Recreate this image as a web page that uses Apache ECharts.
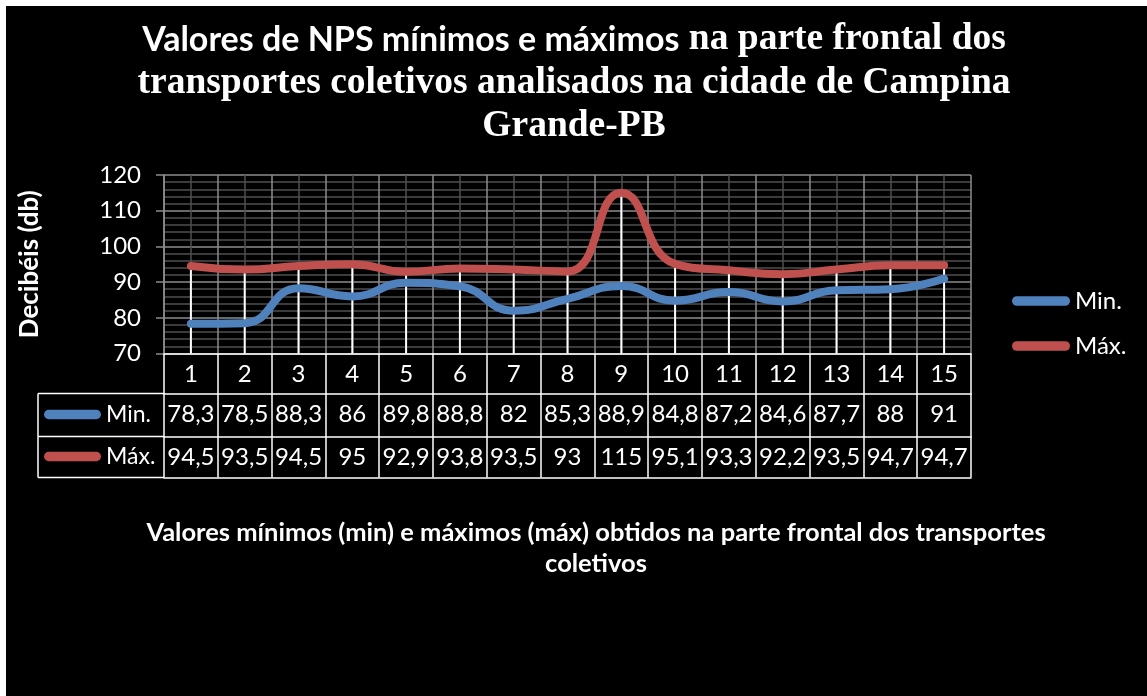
<!DOCTYPE html>
<html><head><meta charset="utf-8">
<script src="https://cdn.jsdelivr.net/npm/echarts@6/dist/echarts.min.js"></script>
<style>
html,body{margin:0;padding:0;background:#fff;width:1147px;height:696px;overflow:hidden}
#c{position:absolute;left:6px;top:6px;width:1141px;height:690px;background:#000}
</style>
</head><body><div id="c"></div>
<script>
const categories = ['1','2','3','4','5','6','7','8','9','10','11','12','13','14','15'];
const minValues = [78.3,78.5,88.3,86,89.8,88.8,82,85.3,88.9,84.8,87.2,84.6,87.7,88,91];
const maxValues = [94.5,93.5,94.5,95,92.9,93.8,93.5,93,115,95.1,93.3,92.2,93.5,94.7,94.7];
const seriesNames = ['Min.','Máx.'];
const yMin = 70, yMax = 120, yStep = 10;
const titleLines = ['Valores de NPS mínimos e máximos', 'na parte frontal dos', 'transportes coletivos analisados na cidade de Campina', 'Grande-PB'];
const xTitleLines = ['Valores mínimos (min) e máximos (máx) obtidos na parte frontal dos transportes', 'coletivos'];
const yTitle = 'Decibéis (db)';

const fmt = v => String(v).replace('.', ',');

const GL = 158, GT = 169, GW = 807, GH = 178.5;
const TL = 32;             // table left
const ROW = [40, 83, 124];  // table row line offsets below plot
const SANS = 'Lato';
const SERIF = '"Liberation Serif","Times New Roman",serif';
const MAJ = '#8c8c8c', MIN = '#4f4f4f';
const BLUE = '#4F81BD', RED = '#C0504D';
const pill = 'path://M5,0L55,0A5,5,0,0,1,55,10L5,10A5,5,0,0,1,5,0Z';

const chart = echarts.init(document.getElementById('c'), null, {renderer:'canvas'});
const gB = GT + GH;
const option = {
  backgroundColor: '#000',
  animation: false,
  grid: {left: GL, top: GT, width: GW, height: GH, containLabel: false},
  legend: [
    {data: seriesNames, orient: 'vertical', left: 1001, top: 278, itemWidth: 58, itemHeight: 10, itemGap: 21,
     icon: pill, selectedMode: false, textStyle: {color: '#fff', fontFamily: SANS, fontSize: 24}},
    {data: seriesNames, orient: 'vertical', left: TL + 1, top: 392, itemWidth: 57, itemHeight: 10, itemGap: 19,
     icon: pill, selectedMode: false, textStyle: {color: '#fff', fontFamily: SANS, fontSize: 23}}
  ],
  xAxis: [
    {type: 'category', data: categories, boundaryGap: true, position: 'bottom',
     axisLine: {show: true, lineStyle: {color: '#fff', width: 1.5}},
     axisTick: {show: true, interval: 0, length: ROW[2], lineStyle: {color: '#fff', width: 1.5}},
     axisLabel: {show: true, interval: 0, color: '#fff', fontFamily: SANS, fontSize: 24, margin: 9},
     splitLine: {show: false}},
    {type: 'value', min: 0, max: categories.length, interval: 0.5, position: 'top',
     axisLine: {show: false}, axisTick: {show: false}, axisLabel: {show: false},
     splitLine: {show: true, lineStyle: {color: [MAJ, MIN], width: 1.5}}},
    {type: 'category', data: minValues.map(fmt), position: 'bottom', offset: ROW[0],
     axisLine: {show: true, lineStyle: {color: '#fff', width: 1.5}}, axisTick: {show: false},
     axisLabel: {show: true, interval: 0, color: '#fff', fontFamily: SANS, fontSize: 24, margin: 9}},
    {type: 'category', data: maxValues.map(fmt), position: 'bottom', offset: ROW[1],
     axisLine: {show: true, lineStyle: {color: '#fff', width: 1.5}}, axisTick: {show: false},
     axisLabel: {show: true, interval: 0, color: '#fff', fontFamily: SANS, fontSize: 24, margin: 9}},
    {type: 'category', data: categories, position: 'bottom', offset: ROW[2],
     axisLine: {show: true, lineStyle: {color: '#fff', width: 1.5}}, axisTick: {show: false},
     axisLabel: {show: false}}
  ],
  yAxis: {
    type: 'value', min: yMin, max: yMax, interval: yStep,
    name: yTitle, nameLocation: 'middle', nameGap: 121,
    nameTextStyle: {color: '#fff', fontFamily: SANS, fontWeight: 'bold', fontSize: 26},
    axisLine: {show: true, lineStyle: {color: MAJ, width: 1.5}},
    axisTick: {show: true, length: 8, lineStyle: {color: MAJ, width: 1.5}},
    axisLabel: {color: '#fff', fontFamily: SANS, fontSize: 24, margin: 23},
    splitLine: {show: true, lineStyle: {color: MAJ, width: 1.5}},
    minorTick: {show: false, splitNumber: 5},
    minorSplitLine: {show: true, lineStyle: {color: MIN, width: 1.5}}
  },
  series: [
    {name: 'drop', type: 'bar', data: maxValues, barWidth: 2, silent: true, z: 1,
     itemStyle: {color: '#fff'}},
    {name: seriesNames[0], type: 'line', data: minValues, smooth: 0.5, showSymbol: false, z: 3, color: BLUE,
     lineStyle: {color: BLUE, width: 8, cap: 'round', join: 'round'}},
    {name: seriesNames[1], type: 'line', data: maxValues, smooth: 0.5, showSymbol: false, z: 3, color: RED,
     lineStyle: {color: RED, width: 8, cap: 'round', join: 'round'}}
  ],
  graphic: [
    {type: 'line', shape: {x1: TL, y1: gB + ROW[0], x2: GL, y2: gB + ROW[0]}, style: {stroke: '#fff', lineWidth: 1.5}},
    {type: 'line', shape: {x1: TL, y1: gB + ROW[1], x2: GL, y2: gB + ROW[1]}, style: {stroke: '#fff', lineWidth: 1.5}},
    {type: 'line', shape: {x1: TL, y1: gB + ROW[2], x2: GL, y2: gB + ROW[2]}, style: {stroke: '#fff', lineWidth: 1.5}},
    {type: 'line', shape: {x1: TL, y1: gB + ROW[0], x2: TL, y2: gB + ROW[2]}, style: {stroke: '#fff', lineWidth: 1.5}},
    {type: 'text', x: 568, y: 12, style: {
      text: '{s|' + titleLines[0] + '}{t| ' + titleLines[1] + '}\n{t|' + titleLines[2] + '}\n{t|' + titleLines[3] + '}',
      align: 'center', fill: '#fff',
      rich: {
        s: {fontFamily: SANS, fontWeight: 'bold', fontSize: 34, lineHeight: 43.5, fill: '#fff'},
        t: {fontFamily: SERIF, fontWeight: 'bold', fontSize: 37.5, lineHeight: 43.5, fill: '#fff'}
      }}},
    {type: 'text', x: 590, y: 511, style: {
      text: '{b|' + xTitleLines[0] + '}\n{b|' + xTitleLines[1] + '}',
      align: 'center', fill: '#fff',
      rich: {b: {fontFamily: SANS, fontWeight: 'bold', fontSize: 25.5, lineHeight: 31, fill: '#fff'}}}}
  ]
};
chart.setOption(option);
</script>
</body></html>
